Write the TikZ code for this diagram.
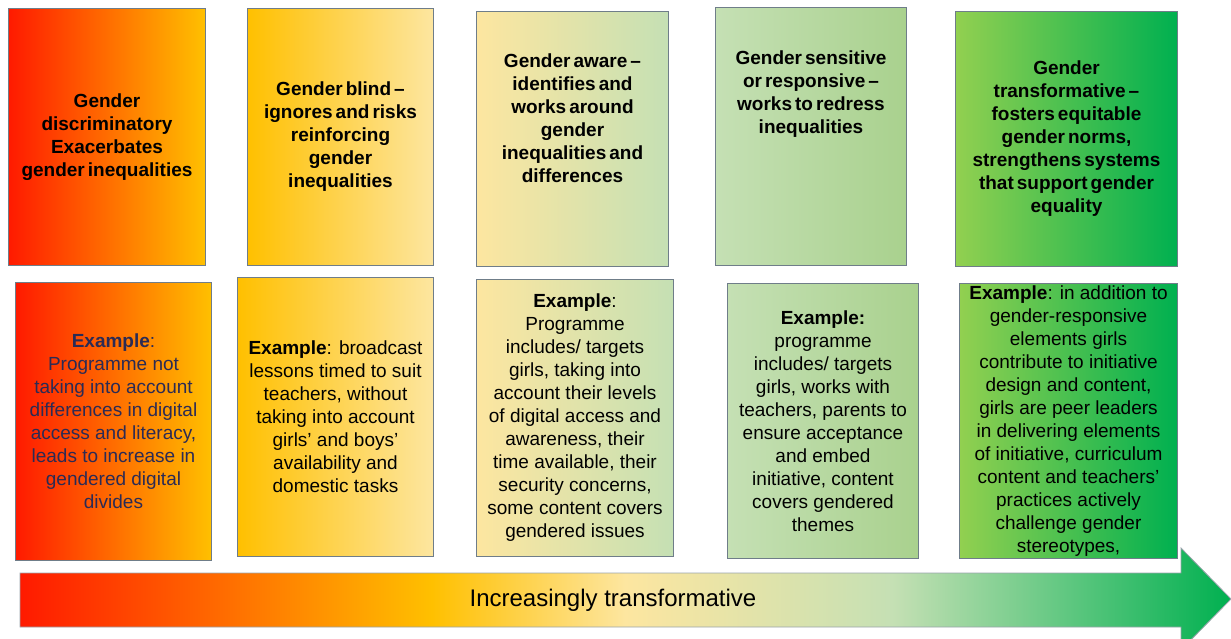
\documentclass[tikz,border=0pt]{standalone}
\usepackage{fontspec}
\setmainfont{Liberation Sans}

\definecolor{redA}{HTML}{FF1A00}
\definecolor{orangeA}{HTML}{FFC000}
\definecolor{paleA}{HTML}{FDE6A0}
\definecolor{sageA}{HTML}{C5E0B4}
\definecolor{sageB}{HTML}{A9D18E}
\definecolor{limeA}{HTML}{92D050}
\definecolor{greenA}{HTML}{00B050}
\definecolor{boxline}{HTML}{6F7D89}
\definecolor{navyA}{HTML}{2B2B55}

\pgfdeclarehorizontalshading{transbar}{100bp}{color(0bp)=(redA); color(25bp)=(redA); color(42bp)=(orangeA); color(50bp)=(paleA); color(61bp)=(sageA); color(75bp)=(greenA); color(100bp)=(greenA)}

\newcommand\headfont{\fontsize{19}{23}\selectfont\bfseries\spaceskip=.16em\relax}
\newcommand\exfont{\fontsize{19}{23}\selectfont}
\newcommand\barfont{\fontsize{24}{28}\selectfont}

\tikzset{
  lvlbox/.style={draw=boxline, line width=1pt, anchor=north west, inner sep=0pt},
  headtxt/.style={font=\headfont, align=center, inner sep=0pt},
  extxt/.style={font=\exfont, align=center},
}

\begin{document}
\begin{tikzpicture}[x=1pt, y=-1pt]
        \useasboundingbox (0,0) rectangle (1231,639);

        % top row: the five levels
        \node[lvlbox, minimum width=197pt, minimum height=257pt, left color=redA, right color=orangeA] (lvl1) at (8,8) {};
        \node[lvlbox, minimum width=186pt, minimum height=257pt, left color=orangeA, right color=paleA] (lvl2) at (247,8) {};
        \node[lvlbox, minimum width=192pt, minimum height=255pt, left color=paleA, right color=sageA] (lvl3) at (476,11) {};
        \node[lvlbox, minimum width=191pt, minimum height=258pt, left color=sageA, right color=sageB] (lvl4) at (715,7) {};
        \node[lvlbox, minimum width=222pt, minimum height=255pt, left color=limeA, right color=greenA] (lvl5) at (955,11) {};

        \node[headtxt] (head1) at (lvl1.center) {Gender\\discriminatory\\Exacerbates\\gender inequalities};
        \node[headtxt] (head2) at (lvl2.center) {Gender blind --\\ignores and risks\\reinforcing\\gender\\inequalities};
        \node[headtxt] (head3) at ([yshift=21pt]lvl3.center) {Gender aware --\\identifies and\\works around\\gender\\inequalities and\\differences};
        \node[headtxt] (head4) at ([yshift=42pt]lvl4.center) {Gender sensitive\\or responsive --\\works to redress\\inequalities};
        \node[headtxt] (head5) at (lvl5.center) {Gender\\transformative --\\fosters equitable\\gender norms,\\strengthens systems\\that support gender\\equality};

        % bottom row: examples
        \node[lvlbox, extxt, minimum width=196pt, minimum height=278pt, left color=redA, right color=orangeA, text=navyA] (ex1) at (15,282) {\textbf{Example}:\\Programme not\\taking into account\\differences in digital\\access and literacy,\\leads to increase in\\gendered digital\\divides};
        \node[lvlbox, extxt, minimum width=196pt, minimum height=279pt, left color=orangeA, right color=paleA] (ex2) at (237,277) {\textbf{Example}: broadcast\\lessons timed to suit\\teachers, without\\taking into account\\girls’ and boys’\\availability and\\domestic tasks};
        \node[lvlbox, extxt, minimum width=197pt, minimum height=277pt, left color=paleA, right color=sageA] (ex3) at (476,279) {\textbf{Example}:\\Programme\\includes/ targets\\girls, taking into\\account their levels\\of digital access and\\awareness, their\\time available, their\\security concerns,\\some content covers\\gendered issues};
        \node[lvlbox, extxt, minimum width=191pt, minimum height=275pt, left color=sageA, right color=sageB] (ex4) at (727,283) {\textbf{Example:}\\programme\\includes/ targets\\girls, works with\\teachers, parents to\\ensure acceptance\\and embed\\initiative, content\\covers gendered\\themes};
        \node[lvlbox, extxt, minimum width=218pt, minimum height=275pt, left color=limeA, right color=greenA] (ex5) at (959,283) {\textbf{Example}: in addition to\\gender-responsive\\elements girls\\contribute to initiative\\design and content,\\girls are peer leaders\\in delivering elements\\of initiative, curriculum\\content and teachers’\\practices actively\\challenge gender\\stereotypes,};

        % the big arrow
        \shadedraw[shading=transbar, draw=boxline!70, line width=0.8pt] (20,573) -- (1181,573) -- (1181,548) -- (1231,599) -- (1181,650) -- (1181,627) -- (20,627) -- cycle;
        \node[font=\barfont] (bartxt) at (613,600) {Increasingly transformative};
    \end{tikzpicture}
\end{document}
